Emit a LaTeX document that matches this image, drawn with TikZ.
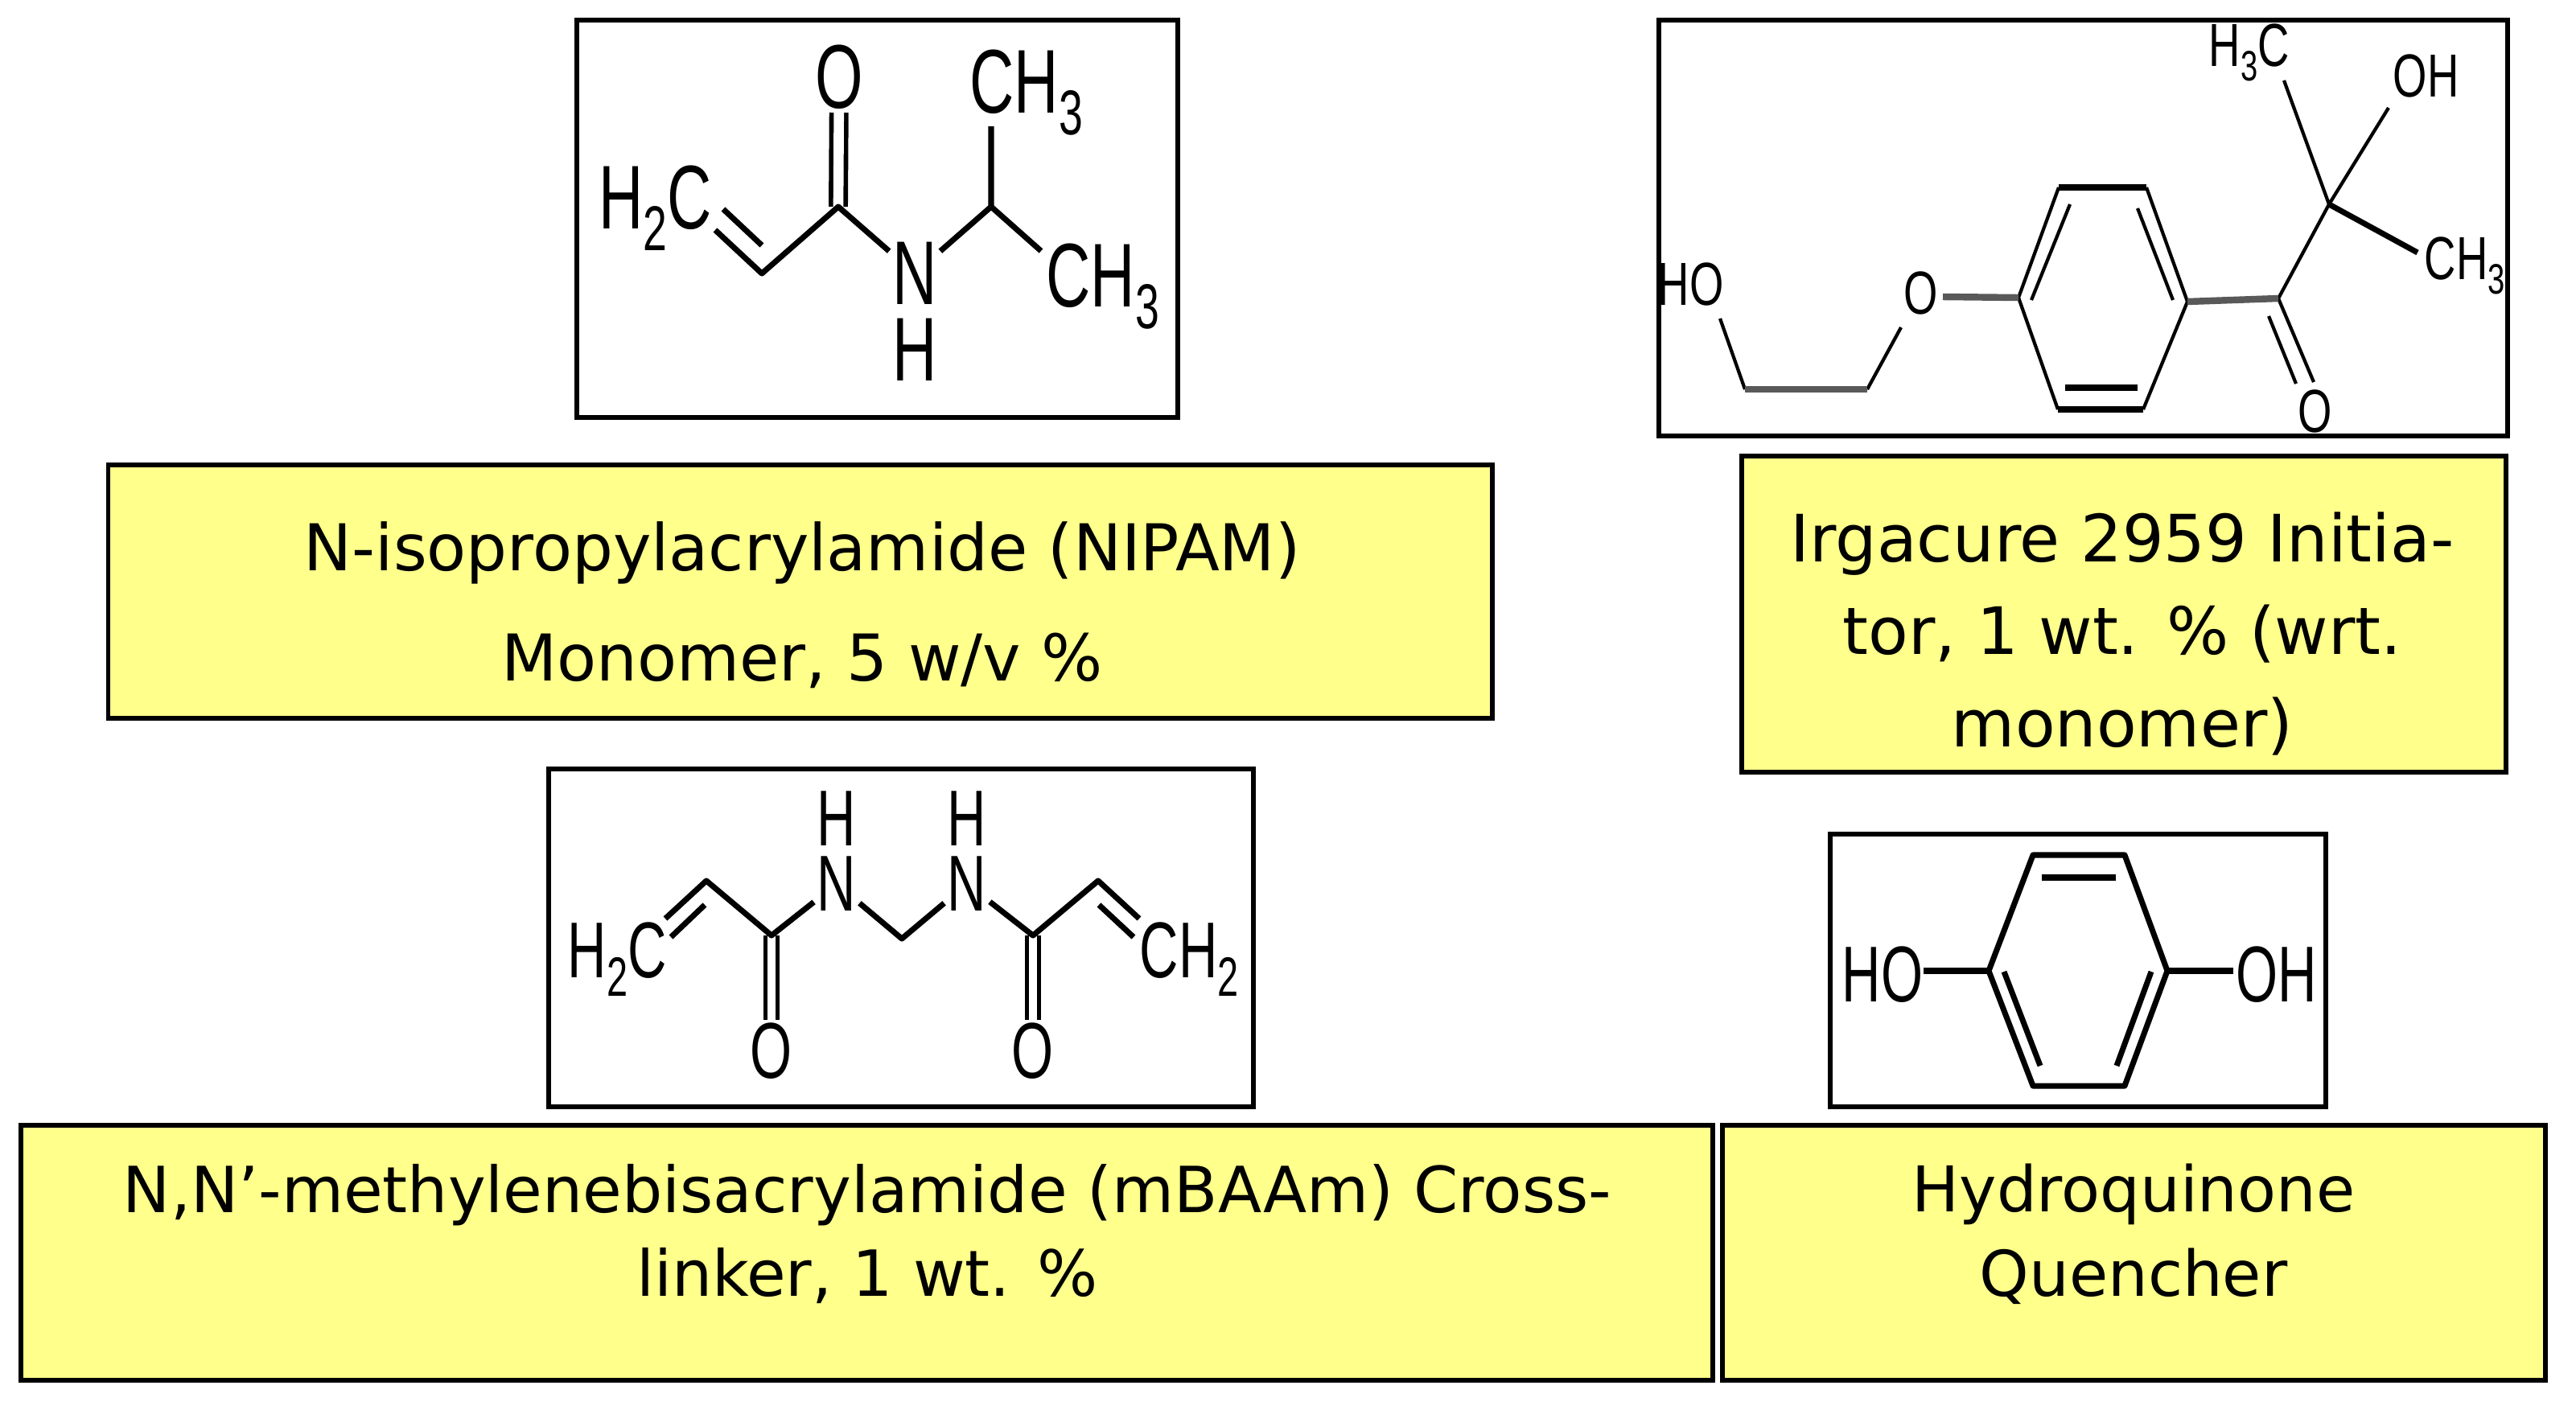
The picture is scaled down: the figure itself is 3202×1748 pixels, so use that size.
\documentclass[tikz,border=0pt]{standalone}
\usepackage{fontspec}
\setmainfont{DejaVu Sans}
\newfontfamily\atomfont[FakeStretch=0.68]{Liberation Sans}
\newfontfamily\initfont[FakeStretch=0.72]{Liberation Sans}
\newcommand{\atomsub}[1]{\raisebox{-0.24em}{\scalebox{.7}{#1}}}
\definecolor{lemon}{HTML}{FFFF8C}
\begin{document}
\begin{tikzpicture}[x=0.01cm,y=-0.01cm,
    frame/.style = {draw=black,line width=1.7pt,inner sep=0pt,outer sep=0pt},
    lemonbox/.style = {draw=black,fill=lemon,line width=1.7pt,inner sep=0pt,outer sep=0pt},
    caption/.style n args = {2}{align=center,inner sep=0pt,font=\fontsize{#1}{#2}\selectfont},
    atom/.style = {inner sep=1pt,font=\atomfont\fontsize{#1}{#1}\selectfont},
    atomleft/.style = {atom=#1,anchor=base west,inner sep=0pt},
    initatom/.style = {inner sep=1pt,font=\initfont\fontsize{21.5}{21.5}\selectfont},
    initleft/.style = {initatom,anchor=base west,inner sep=0pt},
    bond/.style = {line width=2pt},
    thin bond/.style = {line width=1.2pt},
    heavy bond/.style = {line width=2.4pt,black!65},
    double bond/.style = {line width=1.6pt,double,double distance=#1}]

        \useasboundingbox (0,0) rectangle (3202,1748);

        % Yellow boxes
        \node [lemonbox,minimum width=17.19cm,minimum height=3.15cm] (boxNipam) at (994.5,735.5){};
        \node [lemonbox,minimum width=9.50cm,minimum height=3.93cm] (boxIrgacure) at (2640,763.5){};
        \node [lemonbox,minimum width=21.01cm,minimum height=3.17cm] (boxBis) at (1077.5,1557.5){};
        \node [lemonbox,minimum width=10.23cm,minimum height=3.17cm] (boxQuinone) at (2652.5,1557.5){};

        % Box texts
        \node [caption={22.8}{38.8pt}] (textNipam) at (997,752) {N-isopropylacrylamide (NIPAM)\\Monomer, 5 w/v \%};
        \node [caption={23.1}{32.6pt}] (textIrgacure) at (2638,788) {Irgacure 2959 Initia-\\tor, 1 wt. \% (wrt.\\monomer)};
        \node [caption={22.5}{29.8pt}] (textBis) at (1078,1534) {N,N’-methylenebisacrylamide (mBAAm) Cross-\\linker, 1 wt. \%};
        \node [caption={22.3}{29.8pt}] (textQuinone) at (2652,1534) {Hydroquinone\\Quencher};

        % Frames round the molecules
        \node [frame,minimum width=7.47cm,minimum height=4.94cm] (frameNipam) at (1090.5,272){};
        \node [frame,minimum width=10.55cm,minimum height=5.17cm] (frameIrgacure) at (2589.5,283.5){};
        \node [frame,minimum width=8.76cm,minimum height=4.20cm] (frameBis) at (1120,1166){};
        \node [frame,minimum width=6.16cm,minimum height=3.39cm] (frameQuinone) at (2583,1206.5){};

        % NIPAM
        \node [atomleft=32] (nH2C) at (744,284) {H\atomsub{2}C};
        \node [atom=32] (nO) at (1043,96) {O};
        \node [atomleft=32] (nMeA) at (1205,140) {CH\atomsub{3}};
        \node [atomleft=32] (nMeB) at (1300,381) {CH\atomsub{3}};
        \node [atom=32] (nN) at (1137,340) {N};
        \node [atom=32] (nH) at (1137,435) {H};
        \coordinate (nVinA) at (889,286);
        \coordinate (nVinB) at (947,340);
        \coordinate (nVinC) at (899,260);
        \coordinate (nVinD) at (947,305);
        \coordinate (nCarb) at (1042,257);
        \coordinate (nIso) at (1232,257);
        \coordinate (nEndA) at (1232,157);
        \coordinate (nEndB) at (1294,312);
        \draw[double bond=3.6pt] (nCarb) -- (nO);
        \draw[bond,line join=round] (nVinA) -- (nVinB) -- (nCarb) -- (nN) -- (nIso) -- (nEndA);
        \draw[bond] (nVinC) -- (nVinD);
        \draw[bond] (nIso) -- (nEndB);

        % Irgacure 2959
        \begin{scope}[shift={(-12,0)}]
        \node [initleft] (iMeA) at (2757,82) {H\atomsub{3}C};
        \node [initleft] (iOH) at (2986,120) {OH};
        \node [initleft] (iMeB) at (3025,347) {CH\atomsub{3}};
        \node [initleft] (iHO) at (2072,379) {HO};
        \node [initatom] (iOa) at (2400,364) {O};
        \node [initatom] (iOb) at (2890,511) {O};
        \coordinate (iQuat) at (2907,254);
        \coordinate (iEndA) at (2851,100);
        \coordinate (iEndB) at (2981,134);
        \coordinate (iEndC) at (3017,314);
        \coordinate (iCarb) at (2844,371);
        \coordinate (iDblA) at (2888,475);
        \coordinate (iDblB) at (2832,393);
        \coordinate (iDblC) at (2866,477);
        \coordinate (iR1) at (2521,370);
        \coordinate (iR2) at (2571,233);
        \coordinate (iR3) at (2680,233);
        \coordinate (iR4) at (2731,375);
        \coordinate (iR5) at (2676,509);
        \coordinate (iR6) at (2570,509);
        \coordinate (iIn1) at (2537,373);
        \coordinate (iIn2) at (2585,254);
        \coordinate (iIn3) at (2669,259);
        \coordinate (iIn4) at (2713,373);
        \coordinate (iIn5) at (2579,482);
        \coordinate (iIn6) at (2669,482);
        \coordinate (iEthA) at (2427,369);
        \coordinate (iEthB) at (2375,407);
        \coordinate (iEthC) at (2333,484);
        \coordinate (iEthD) at (2181,484);
        \coordinate (iEthE) at (2150,396);
        \draw[thin bond] (iEndA) -- (iQuat) -- (iEndB);
        \draw[thin bond] (iQuat) -- (iCarb) -- (iDblA);
        \draw[thin bond] (iDblB) -- (iDblC);
        \draw[thin bond] (iR2) -- (iR1) -- (iR6);
        \draw[thin bond] (iR3) -- (iR4) -- (iR5);
        \draw[thin bond] (iIn1) -- (iIn2);
        \draw[thin bond] (iIn3) -- (iIn4);
        \draw[thin bond] (iEthB) -- (iEthC);
        \draw[thin bond] (iEthD) -- (iEthE);
        \draw[bond] (iQuat) -- (iEndC);
        \draw[bond] (iR2) -- (iR3);
        \draw[bond] (iR6) -- (iR5);
        \draw[bond] (iIn5) -- (iIn6);
        \draw[heavy bond] (iEthA) -- (iR1);
        \draw[heavy bond] (iR4) -- (iCarb);
        \draw[heavy bond] (iEthC) -- (iEthD);
        \end{scope}

        % mBAAm
        \begin{scope}[shift={(-5,-6)}]
        \node [atomleft=28] (bH2C) at (710,1221) {H\atomsub{2}C};
        \node [atomleft=28] (bCH2) at (1421,1221) {CH\atomsub{2}};
        \node [atom=28] (bNa) at (1045,1105) {N};
        \node [atom=28] (bHa) at (1045,1024) {H};
        \node [atom=28] (bNb) at (1207,1105) {N};
        \node [atom=28] (bHb) at (1207,1024) {H};
        \node [atom=28] (bOa) at (964,1313) {O};
        \node [atom=28] (bOb) at (1289,1313) {O};
        \coordinate (bEndA) at (832,1148);
        \coordinate (bVinA) at (883,1101);
        \coordinate (bInA) at (881,1131);
        \coordinate (bInB) at (839,1171);
        \coordinate (bCarbA) at (964,1169);
        \coordinate (bBridge) at (1126,1173);
        \coordinate (bCarbB) at (1289,1169);
        \coordinate (bVinB) at (1370,1101);
        \coordinate (bEndB) at (1421,1148);
        \coordinate (bInC) at (1371,1131);
        \coordinate (bInD) at (1414,1171);
        \draw[double bond=2.6pt] (bCarbA) -- (bOa);
        \draw[double bond=2.6pt] (bCarbB) -- (bOb);
        \draw[bond,line join=round] (bEndA) -- (bVinA) -- (bCarbA) -- (bNa);
        \draw[bond,line join=round] (bNa) -- (bBridge) -- (bNb) -- (bCarbB) -- (bVinB) -- (bEndB);
        \draw[bond] (bInA) -- (bInB);
        \draw[bond] (bInC) -- (bInD);
        \end{scope}

        % Hydroquinone
        \begin{scope}[shift={(-14,-5)}]
        \node [atomleft=28] (qHO) at (2303,1250) {HO};
        \node [atomleft=28] (qOH) at (2793,1250) {OH};
        \coordinate (qEndA) at (2405,1212);
        \coordinate (qEndB) at (2790,1212);
        \coordinate (qR1) at (2486,1212);
        \coordinate (qR2) at (2541,1068);
        \coordinate (qR3) at (2655,1068);
        \coordinate (qR4) at (2708,1212);
        \coordinate (qR5) at (2655,1355);
        \coordinate (qR6) at (2541,1355);
        \coordinate (qIn1) at (2552,1096);
        \coordinate (qIn2) at (2644,1096);
        \coordinate (qIn3) at (2505,1213);
        \coordinate (qIn4) at (2550,1330);
        \coordinate (qIn5) at (2688,1213);
        \coordinate (qIn6) at (2645,1330);
        \draw[bond,line join=round] (qR1) -- (qR2) -- (qR3) -- (qR4) -- (qR5) -- (qR6) -- cycle;
        \draw[bond] (qEndA) -- (qR1);
        \draw[bond] (qR4) -- (qEndB);
        \draw[bond] (qIn1) -- (qIn2);
        \draw[bond] (qIn3) -- (qIn4);
        \draw[bond] (qIn5) -- (qIn6);
        \end{scope}

    \end{tikzpicture}
\end{document}
